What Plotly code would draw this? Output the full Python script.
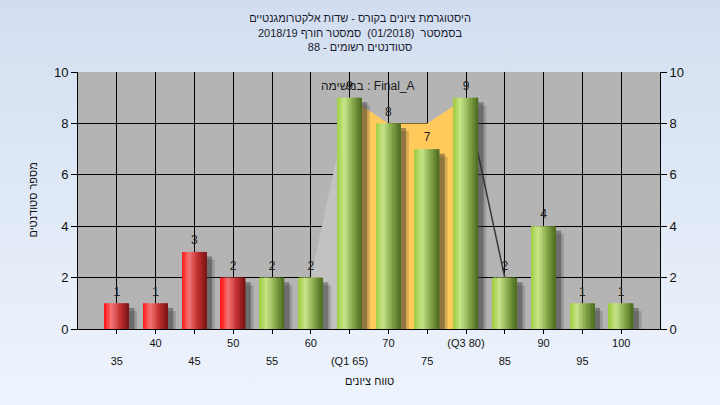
import base64
import plotly.graph_objects as go

# ---------------- data ----------------
categories = [35, 40, 45, 50, 55, 60, 65, 70, 75, 80, 85, 90, 95, 100]
counts = [1, 1, 3, 2, 2, 2, 9, 8, 7, 9, 2, 4, 1, 1]
tick_labels = ["35", "40", "45", "50", "55", "60", "(Q1 65)", "70", "75",
               "(Q3 80)", "85", "90", "95", "100"]
failing = [True, True, True, True, False, False, False, False, False,
           False, False, False, False, False]
left_ramp_x = [60, 65]
left_ramp_y = [2, 9]
quartile_band_x = [65, 70, 75, 80]
quartile_band_y = [9, 8, 8, 9]
right_ramp_x = [80, 85]
right_ramp_y = [9, 2]

title_lines = ["היסטוגרמת ציונים בקורס - שדות אלקטרומגנטיים",
               "בסמסטר  (01/2018)  סמסטר חורף 2018/19",
               "סטודנטים רשומים - 88"]
x_title = "טווח ציונים"
y_title = "מספר סטודנטים"
series_label = "במשימה : Final_A"


# ---------------- helpers ----------------
def hex2rgb(h):
    h = h.lstrip("#")
    return [int(h[i:i + 2], 16) for i in (0, 2, 4)]


def ramp(stops, t):
    for (t0, c0), (t1, c1) in zip(stops, stops[1:]):
        if t0 <= t <= t1:
            f = (t - t0) / (t1 - t0)
            a, b = hex2rgb(c0), hex2rgb(c1)
            return "rgb(%d,%d,%d)" % tuple(round(a[k] + (b[k] - a[k]) * f) for k in range(3))
    return stops[-1][1]


red_stops = [(0.0, "#ff1212"), (0.3, "#f27676"), (0.65, "#c43030"), (1.0, "#7a1414")]
green_stops = [(0.0, "#9ecb3e"), (0.3, "#c8e489"), (0.65, "#86a84a"), (1.0, "#4c6a20")]

W = 3.15      # bar width in x units
N = 16        # gradient slices

fig = go.Figure()

# area shapes behind bars (main subplot, drawn first)
fig.add_trace(go.Scatter(x=left_ramp_x, y=left_ramp_y, fill="tozeroy", mode="lines",
                         line=dict(width=0), fillcolor="#c2c2c2",
                         showlegend=False, hoverinfo="skip"))
fig.add_trace(go.Scatter(x=quartile_band_x, y=quartile_band_y, fill="tozeroy", mode="lines",
                         line=dict(width=0), fillcolor="#ffc95c",
                         showlegend=False, hoverinfo="skip"))
fig.add_trace(go.Scatter(x=right_ramp_x, y=right_ramp_y, mode="lines",
                         line=dict(width=1.5, color="#3a3a3a"),
                         showlegend=False, hoverinfo="skip"))

# shadows (overlay subplot, above the areas)
for dx, dy, col in [(1.05, 0.3, "rgba(40,40,40,0.18)"), (0.7, 0.18, "rgba(40,40,40,0.4)")]:
    fig.add_trace(go.Bar(x=categories, y=[c - dy for c in counts], width=W,
                         offset=-W / 2 + dx, marker=dict(color=col, line=dict(width=0)),
                         xaxis="x2", yaxis="y2", showlegend=False, hoverinfo="skip"))

# cylinder-like bars as gradient slices
for i in range(N):
    t = (i + 0.5) / N
    cols = [ramp(red_stops if f else green_stops, t) for f in failing]
    fig.add_trace(go.Bar(x=categories, y=counts, width=W / N * 1.04,
                         offset=-W / 2 + i * W / N,
                         marker=dict(color=cols, line=dict(width=0)),
                         xaxis="x2", yaxis="y2", showlegend=False, hoverinfo="skip"))

# value labels
fig.add_trace(go.Scatter(x=categories, y=counts, mode="markers+text",
                         marker=dict(size=6, color="rgba(0,0,0,0)"),
                         text=[str(c) for c in counts], textposition="top center",
                         textfont=dict(size=12, color="#222222",
                                       family="Liberation Sans, Arial, sans-serif"),
                         xaxis="x2", yaxis="y2", showlegend=False, hoverinfo="skip"))

# background gradient
svg = ('<svg xmlns="http://www.w3.org/2000/svg" width="720" height="405">'
       '<defs><linearGradient id="g" x1="0" y1="0" x2="0" y2="1">'
       '<stop offset="0" stop-color="#d2def0"/><stop offset="1" stop-color="#eef4fd"/>'
       '</linearGradient></defs><rect width="720" height="405" fill="url(#g)"/></svg>')
src = "data:image/svg+xml;base64," + base64.b64encode(svg.encode()).decode()

L, R, T, B = 78, 60, 72, 76
PW, PH = 720 - L - R, 405 - T - B

font_family = "Liberation Sans, Arial, sans-serif"
row1_vals = [c for i, c in enumerate(categories) if i % 2 == 1]
row1_text = [t for i, t in enumerate(tick_labels) if i % 2 == 1]
row2_vals = [c for i, c in enumerate(categories) if i % 2 == 0]
row2_text = [t for i, t in enumerate(tick_labels) if i % 2 == 0]

fig.update_layout(
    width=720, height=405, autosize=False,
    margin=dict(l=L, r=R, t=T, b=B),
    paper_bgcolor="#e0e9f6",
    plot_bgcolor="rgba(0,0,0,0)",
    barmode="overlay",
    font=dict(family=font_family, color="#111111"),
    title=dict(text="<br>".join(title_lines),
               x=0.5, xanchor="center", y=0.945, yanchor="top",
               font=dict(size=11, color="#1a1a2e", family=font_family)),
    images=[dict(source=src, xref="paper", yref="paper",
                 x=-L / PW, y=1 + T / PH, sizex=720 / PW, sizey=405 / PH,
                 xanchor="left", yanchor="top", sizing="stretch", layer="below")],
    shapes=[dict(type="rect", xref="paper", yref="paper", x0=0, x1=1, y0=0, y1=1,
                 fillcolor="#b4b4b4", line=dict(width=0), layer="below")],
    xaxis=dict(range=[30, 105], tickvals=row1_vals + row2_vals,
               ticktext=row1_text + [""] * len(row2_vals),
               ticks="outside", ticklen=4, tickcolor="black",
               showline=True, linecolor="black", linewidth=1,
               showgrid=True, gridcolor="black", gridwidth=1, zeroline=False,
               tickfont=dict(size=11, color="#111111")),
    xaxis2=dict(range=[30, 105], overlaying="x", side="bottom", anchor="y2",
                tickvals=row2_vals, ticktext=row2_text, ticks="",
                showline=False, showgrid=False, zeroline=False,
                ticklabelstandoff=24, tickfont=dict(size=11, color="#111111")),
    yaxis=dict(range=[0, 10], dtick=2, ticks="outside", ticklen=6, tickcolor="black",
               showline=True, linecolor="black", linewidth=1,
               showgrid=True, gridcolor="black", gridwidth=1, zeroline=False,
               tickfont=dict(size=13, color="#111111")),
    yaxis2=dict(range=[0, 10], dtick=2, overlaying="y", side="right", anchor="x2",
                ticks="outside", ticklen=6, tickcolor="black",
                showline=True, linecolor="black", linewidth=1,
                showgrid=False, zeroline=False,
                tickfont=dict(size=13, color="#111111")),
    annotations=[
        dict(text=x_title, xref="paper", yref="paper",
             x=(369 - L) / PW, y=-(381 - 405 + B) / PH, showarrow=False,
             xanchor="center", yanchor="middle", font=dict(size=11, color="#111111")),
        dict(text=y_title, xref="paper", yref="paper",
             x=(32 - L) / PW, y=0.5, showarrow=False, textangle=-90,
             xanchor="center", yanchor="middle", font=dict(size=11, color="#111111")),
        dict(text=series_label, xref="paper", yref="paper",
             x=(368 - L) / PW, y=(405 - B - 86) / PH, showarrow=False,
             xanchor="center", yanchor="middle", font=dict(size=12, color="#1a1a1a")),
    ],
)

fig.write_html("out.html", config={"displayModeBar": False},
               post_script="document.body.style.margin='0';document.body.style.overflow='hidden';")
